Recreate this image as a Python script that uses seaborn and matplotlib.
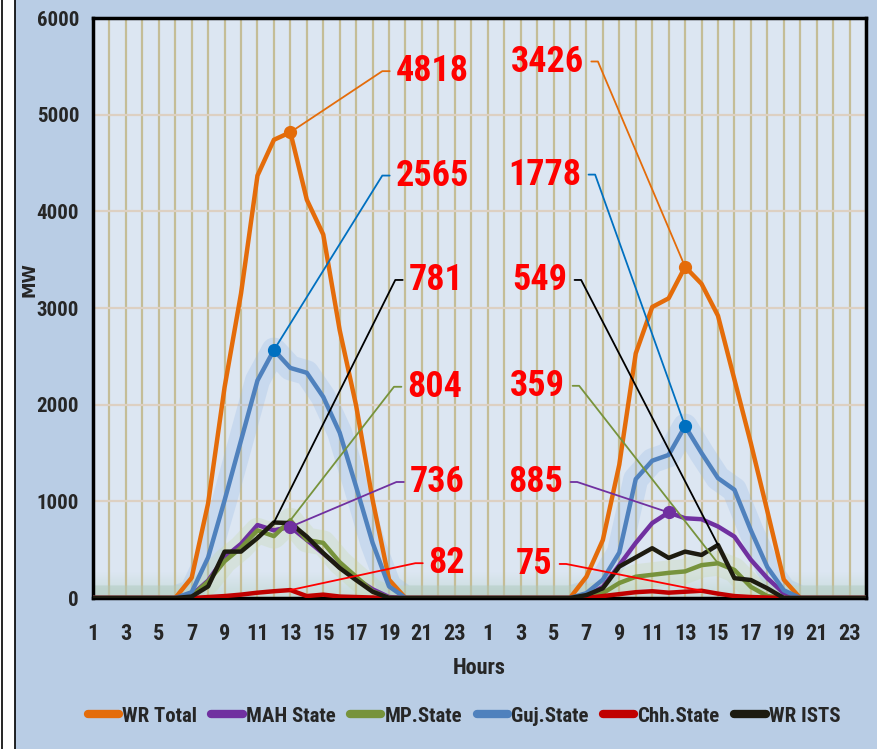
import numpy as np
import matplotlib
matplotlib.use("Agg")
import matplotlib.pyplot as plt
from matplotlib import font_manager as fm
import pandas as pd
import seaborn as sns

# hourly values, two days (hours 1..24 each)
hours = list(range(1, 25)) * 2
series_names = ["WR Total", "MAH State", "MP.State", "Guj.State", "Chh.State", "WR ISTS"]

wr_total = [0, 0, 0, 0, 0, 0, 210, 980, 2180, 3150, 4370, 4740, 4818, 4120, 3760, 2770, 1990, 1015, 190, 0, 0, 0, 0, 0,
            0, 0, 0, 0, 0, 0, 220, 600, 1380, 2530, 3010, 3100, 3426, 3250, 2920, 2260, 1600, 900, 190, 0, 0, 0, 0, 0]
mah_state = [0, 0, 0, 0, 0, 0, 30, 180, 420, 560, 755, 700, 736, 600, 460, 320, 200, 90, 10, 0, 0, 0, 0, 0,
             0, 0, 0, 0, 0, 0, 20, 115, 340, 570, 775, 885, 825, 815, 740, 635, 395, 205, 50, 0, 0, 0, 0, 0]
mp_state = [0, 0, 0, 0, 0, 0, 20, 170, 380, 520, 700, 640, 804, 600, 570, 370, 220, 70, 0, 0, 0, 0, 0, 0,
            0, 0, 0, 0, 0, 0, 10, 50, 155, 220, 240, 260, 275, 340, 359, 290, 115, 20, 0, 0, 0, 0, 0, 0]
guj_state = [0, 0, 0, 0, 0, 0, 60, 420, 1010, 1630, 2250, 2565, 2380, 2330, 2080, 1710, 1150, 570, 120, 0, 0, 0, 0, 0,
             0, 0, 0, 0, 0, 0, 50, 190, 470, 1230, 1420, 1480, 1778, 1500, 1240, 1120, 700, 320, 80, 0, 0, 0, 0, 0]
chh_state = [0, 0, 0, 0, 0, 0, 0, 10, 20, 35, 55, 70, 82, 20, 35, 15, 10, 5, 0, 0, 0, 0, 0, 0,
             0, 0, 0, 0, 0, 0, 0, 20, 40, 60, 70, 55, 65, 75, 45, 20, 10, 5, 0, 0, 0, 0, 0, 0]
wr_ists = [0, 0, 0, 0, 0, 0, 15, 120, 480, 480, 620, 781, 775, 635, 465, 310, 185, 65, 0, 0, 0, 0, 0, 0,
           0, 0, 0, 0, 0, 0, 30, 100, 325, 420, 515, 415, 480, 445, 549, 205, 186, 100, 0, 0, 0, 0, 0, 0]

colors = ["#e46c0a", "#7030a0", "#77933c", "#4f81bd", "#c00000", "#1d1b10"]
leader_colors = ["#e46c0a", "#7030a0", "#77933c", "#0070c0", "#ff0000", "#000000"]
marked = ["WR Total", "MAH State", "Guj.State"]

# callouts: (series, point index, text)
callouts_day1 = [("WR Total", 12, "4818"), ("Guj.State", 11, "2565"), ("WR ISTS", 11, "781"),
                 ("MP.State", 12, "804"), ("MAH State", 12, "736"), ("Chh.State", 12, "82")]
callouts_day2 = [("WR Total", 36, "3426"), ("Guj.State", 36, "1778"), ("WR ISTS", 38, "549"),
                 ("MP.State", 38, "359"), ("MAH State", 35, "885"), ("Chh.State", 37, "75")]
# where the leader lines end (x index, MW)
anchor_day1 = [(18.04, 5450), (18.04, 4370), (18.83, 3290), (18.75, 2185), (18.9, 1200), (20.05, 360)]
anchor_day2 = [(30.3, 5550), (30.13, 4380), (29.28, 3290), (29.16, 2195), (29.04, 1200), (28.37, 352)]

values = {"WR Total": wr_total, "MAH State": mah_state, "MP.State": mp_state,
          "Guj.State": guj_state, "Chh.State": chh_state, "WR ISTS": wr_ists}
pal = dict(zip(series_names, colors))
lcol = dict(zip(series_names, leader_colors))


def pick_narrow_bold():
    # look for a condensed bold face (Arial Narrow look-alike)
    order = ["Liberation Sans Narrow", "Arial Narrow", "Roboto Condensed", "Noto Sans",
             "Open Sans Condensed", "Open Sans", "DejaVu Sans", "Roboto"]
    best = None
    for f in fm.fontManager.ttflist:
        st = str(f.stretch).lower()
        narrow = ("narrow" in f.name.lower() or "condensed" in f.name.lower()
                  or st in ("condensed", "semi-condensed", "extra-condensed", "ultra-condensed"))
        try:
            w = int(f.weight)
        except (TypeError, ValueError):
            w = fm.weight_dict.get(str(f.weight), 400)
        if not narrow or w < 600 or str(f.style) != "normal":
            continue
        rank = order.index(f.name) if f.name in order else len(order)
        srank = {"condensed": 0, "semi-condensed": 1, "extra-condensed": 2}.get(st, 0)
        key = (rank, srank, abs(w - 700))
        if best is None or key < best[0]:
            best = (key, f.fname)
    return best[1] if best else None


narrow_path = pick_narrow_bold()


def fp(size):
    if narrow_path:
        return fm.FontProperties(fname=narrow_path, size=size)
    return fm.FontProperties(family="Liberation Sans", weight="bold", size=size * 0.85)


idx = np.arange(len(hours))
df = pd.concat([pd.DataFrame({"idx": idx, "MW": values[s], "series": s}) for s in series_names])

sns.set_style("white")
plt.rcParams["font.family"] = ["Liberation Sans", "DejaVu Sans"]

fig = plt.figure(figsize=(8.77, 7.49), dpi=100)
fig.patch.set_facecolor("white")
bg = plt.Rectangle((15 / 877, 0), 1, 1, transform=fig.transFigure, color="#b9cde5", zorder=-10)
fig.patches.append(bg)
for xx in [2 / 877, 15 / 877]:
    fig.add_artist(plt.Line2D([xx, xx], [0, 1], transform=fig.transFigure, color="black", lw=1.2))

ax = fig.add_axes([93 / 877, 151 / 749, 773 / 877, 580 / 749])
ax.set_facecolor("#dce6f2")

# soft band near the baseline
grad = np.linspace(0, 1, 64).reshape(-1, 1)
ax.imshow(grad, extent=[0, 47, 0, 260], origin="lower", aspect="auto", interpolation="bilinear",
          cmap=matplotlib.colors.LinearSegmentedColormap.from_list("g", ["#c6dbd8", "#dce6f2"]), zorder=0.1)

# glow under Guj and MP
for s, c in [("Guj.State", "#8fb4e3"), ("MP.State", "#c3d69b")]:
    ax.plot(idx, values[s], color=c, lw=18, alpha=0.25, solid_capstyle="round", zorder=1)

sns.lineplot(data=df, x="idx", y="MW", hue="series", hue_order=series_names, palette=pal,
             linewidth=3.2, ax=ax, zorder=3)

for calls, anchors, side in [(callouts_day1, anchor_day1, "right"), (callouts_day2, anchor_day2, "left")]:
    for (s, i, txt), (ex, ey) in zip(calls, anchors):
        py = values[s][i]
        if side == "right":
            ax.plot([i, ex - 0.45, ex], [py, ey, ey], color=lcol[s], lw=1.3, zorder=4)
            ax.text(ex + 0.35, ey, txt, color="#ff0000", fontproperties=fp(26),
                    ha="left", va="center", zorder=6)
        else:
            ax.plot([i, ex + 0.4, ex], [py, ey, ey], color=lcol[s], lw=1.3, zorder=4)
            ax.text(ex - 0.45, ey, txt, color="#ff0000", fontproperties=fp(26),
                    ha="right", va="center", zorder=6)
        if s in marked:
            ax.plot(i, py, "o", color=lcol[s] if s == "Guj.State" else pal[s], ms=8.5, zorder=5)

ax.set_xlim(0, 47)
ax.set_ylim(0, 6000)
ax.set_xticks(idx)
ax.set_xticklabels([str(h) if h % 2 == 1 else "" for h in hours])
ax.set_yticks(range(0, 6001, 1000))
ax.tick_params(axis="x", length=0, pad=18)
ax.tick_params(axis="y", length=0, pad=10)
for lab in ax.get_xticklabels():
    lab.set_fontproperties(fp(16))
for lab in ax.get_yticklabels():
    lab.set_fontproperties(fp(15))
ax.grid(axis="x", color="#c4bd97", lw=1.6)
ax.grid(axis="y", color="#ddd0c2", lw=1.6)
ax.set_axisbelow(True)
for sp in ax.spines.values():
    sp.set_color("black")
    sp.set_linewidth(2.5)

ax.set_xlabel("Hours", fontproperties=fp(16), labelpad=9)
ax.set_ylabel("")
fig.text(30 / 877, 1 - 280 / 749, "MW", rotation=90, ha="center", va="center",
         fontsize=12, fontweight="bold", family="DejaVu Sans")

handles, labels = ax.get_legend_handles_labels()
if ax.legend_:
    ax.legend_.remove()
for h in handles:
    h.set_linewidth(6)
fig.legend(handles, labels, loc="center", bbox_to_anchor=(0.529, 1 - 716 / 749), ncol=6,
           frameon=False, handlelength=1.5, handletextpad=0.15, columnspacing=0.7,
           prop=fp(15))

fig.savefig("out.png", dpi=100)
